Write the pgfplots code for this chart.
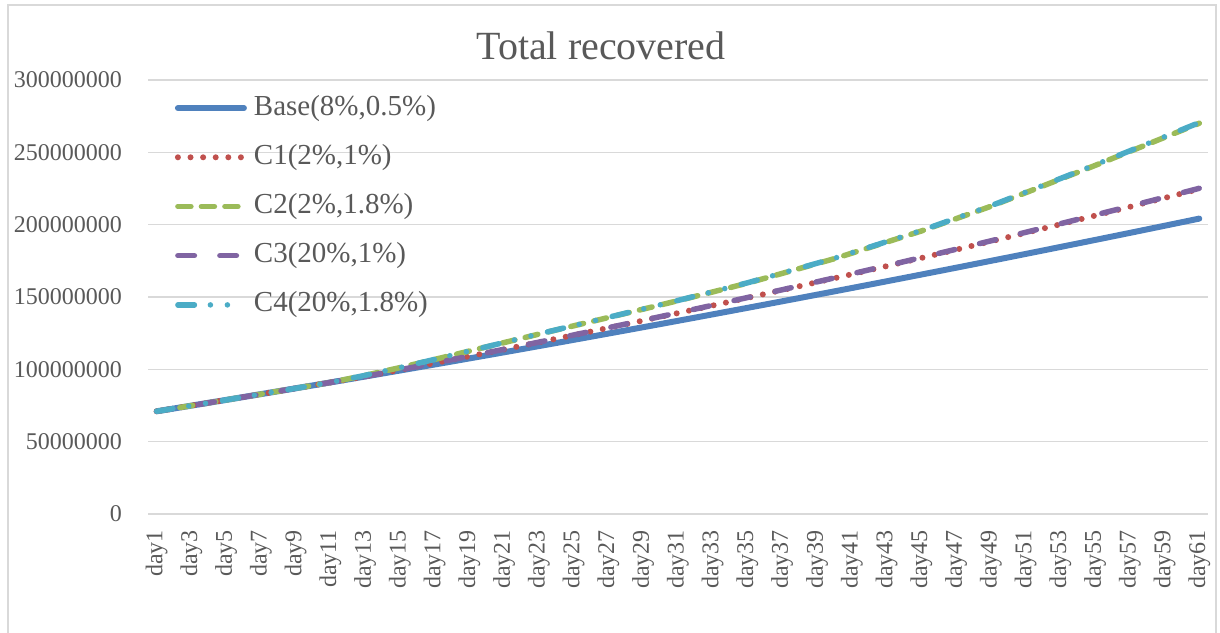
\documentclass[border=0pt]{standalone}
\usepackage{pgfplots}
\pgfplotsset{compat=1.18}
\usepackage{pgfplotstable}
\usepackage{fontspec}
\setmainfont{Liberation Serif}

\definecolor{txtgray}{HTML}{595959}
\definecolor{gridgray}{HTML}{D9D9D9}
\definecolor{sBlue}{HTML}{4F81BD}
\definecolor{sRed}{HTML}{C0504D}
\definecolor{sGreen}{HTML}{9BBB59}
\definecolor{sPurple}{HTML}{8064A2}
\definecolor{sAqua}{HTML}{4BACC6}

% Total recovered, in millions of people
\pgfplotstableread{
d base c1 c2 c3 c4
1 71.00 71.00 71.00 71.00 71.00
2 72.95 72.95 72.95 72.95 72.95
3 74.92 74.92 74.92 74.92 74.92
4 76.89 76.89 76.89 76.89 76.89
5 78.87 78.87 78.87 78.87 78.87
6 80.86 80.86 80.86 80.86 80.86
7 82.86 82.86 82.86 82.86 82.86
8 84.87 84.87 84.87 84.87 84.87
9 86.89 86.89 86.89 86.89 86.89
10 88.91 88.91 88.91 88.91 88.91
11 90.95 90.95 90.95 90.95 90.95
12 92.99 92.99 93.39 92.99 93.39
13 95.05 95.05 95.85 95.05 95.85
14 97.11 97.33 98.51 97.35 98.55
15 99.18 99.64 101.18 99.68 101.22
16 101.26 101.96 104.01 102.00 104.06
17 103.35 104.30 106.85 104.35 106.90
18 105.45 106.66 109.75 106.72 109.82
19 107.56 109.03 112.66 109.10 112.72
20 109.67 111.42 115.57 111.50 115.64
21 111.80 113.83 118.50 113.91 118.58
22 113.93 116.26 121.43 116.35 121.52
23 116.08 118.71 124.38 118.80 124.47
24 118.23 121.17 127.23 121.27 127.33
25 120.39 123.65 130.09 123.76 130.20
26 122.56 126.15 132.96 126.27 133.08
27 124.74 128.66 135.84 128.79 135.97
28 126.93 131.20 138.73 131.34 138.87
29 129.13 133.75 141.63 133.90 141.78
30 131.33 136.31 144.53 136.47 144.69
31 133.55 138.90 147.45 139.07 147.62
32 135.77 141.50 150.47 141.68 150.65
33 138.01 144.13 153.51 144.32 153.70
34 140.25 146.77 156.55 146.97 156.75
35 142.50 149.42 159.60 149.63 159.81
36 144.76 152.09 162.96 152.31 163.18
37 147.03 154.79 166.33 155.02 166.56
38 149.31 157.50 169.71 157.74 169.95
39 151.60 160.23 173.10 160.48 173.35
40 153.89 162.96 176.49 163.22 176.75
41 156.20 165.73 180.30 166.00 180.57
42 158.51 168.51 184.11 168.79 184.39
43 160.84 171.31 187.94 171.60 188.23
44 163.17 174.12 191.77 174.42 192.07
45 165.51 176.95 195.61 177.26 195.92
46 167.86 179.80 199.86 180.12 200.18
47 170.22 182.67 204.12 183.00 204.45
48 172.59 185.56 208.39 185.90 208.73
49 174.97 188.46 212.67 188.81 213.02
50 177.35 191.38 217.35 191.74 217.71
51 179.75 194.32 222.05 194.69 222.42
52 182.15 197.27 226.75 197.65 227.13
53 184.57 200.25 231.47 200.64 231.86
54 186.99 203.24 236.19 203.64 236.59
55 189.42 206.25 240.92 206.66 241.33
56 191.86 209.27 245.76 209.69 246.18
57 194.30 212.30 250.60 212.73 251.03
58 196.77 215.38 255.47 215.82 255.91
59 199.24 218.46 260.34 218.91 260.79
60 201.71 221.55 265.21 222.01 265.67
61 204.20 224.67 270.10 225.14 270.57
}\recovered

\begin{document}
\begin{tikzpicture}[x=1pt,y=1pt]
\useasboundingbox (0,0) rectangle (1220,632);
% chart frame
\draw[gridgray, line width=1.5pt] (8,-20) -- (8,627) -- (1216,627) -- (1216,-20);
\begin{axis}[
  at={(148pt,118pt)}, anchor=south west,
  scale only axis, width=1060pt, height=434pt,
  xmin=0.5, xmax=61.5, ymin=0, ymax=300,
  axis line style={draw=none},
  major tick length=0pt,
  ymajorgrids,
  major grid style={gridgray, line width=1.5pt},
  ytick={0,50,100,150,200,250,300},
  yticklabels={0,50000000,100000000,150000000,200000000,250000000,300000000},
  xtick={1,3,...,61},
  xticklabels={day1,day3,day5,day7,day9,day11,day13,day15,day17,day19,day21,day23,day25,day27,day29,day31,day33,day35,day37,day39,day41,day43,day45,day47,day49,day51,day53,day55,day57,day59,day61},
  ticklabel style={font=\fontsize{24}{24}\selectfont, text=txtgray, inner sep=0pt},
  yticklabel style={anchor=east},
  yticklabel shift=26pt,
  xticklabel style={rotate=90, anchor=east},
  xticklabel shift=16pt,
  title={Total recovered},
  title style={at={(axis description cs:0.4274,1.034)}, anchor=base,
    font=\fontsize{40}{40}\selectfont, text=txtgray, inner sep=0pt},
  legend cell align=left,
  legend style={at={(axis description cs:0.0252,0.968)}, anchor=north west,
    draw=none, fill=none, inner sep=0pt, row sep=21.2pt,
    font=\fontsize{29}{29}\selectfont, text=txtgray,
    nodes={inner xsep=0pt, inner ysep=0pt, text height=21pt, text depth=7pt},
    /tikz/every odd column/.append style={column sep=7pt}},
  legend image code/.code={\draw[#1] (0pt,0pt) -- (66pt,0pt);},
  every axis plot/.append style={line cap=round, line join=round},
]
\addplot[sBlue, line width=6pt] table[x=d, y=base] \recovered;
\addlegendentry{Base(8\%,0.5\%)}
\addplot[sRed, line width=6pt, dash pattern=on 0pt off 12.6pt] table[x=d, y=c1] \recovered;
\addlegendentry{C1(2\%,1\%)}
\addplot[sGreen, line width=5.5pt, dash pattern=on 13pt off 10.5pt] table[x=d, y=c2] \recovered;
\addlegendentry{C2(2\%,1.8\%)}
\addplot[sPurple, line width=5.5pt, dash pattern=on 16.5pt off 25.5pt] table[x=d, y=c3] \recovered;
\addlegendentry{C3(20\%,1\%)}
\addplot[sAqua, line width=5.5pt, dash pattern=on 16.5pt off 16pt on 0pt off 17pt on 0pt off 17pt] table[x=d, y=c4] \recovered;
\addlegendentry{C4(20\%,1.8\%)}
\end{axis}
\end{tikzpicture}
\end{document}
